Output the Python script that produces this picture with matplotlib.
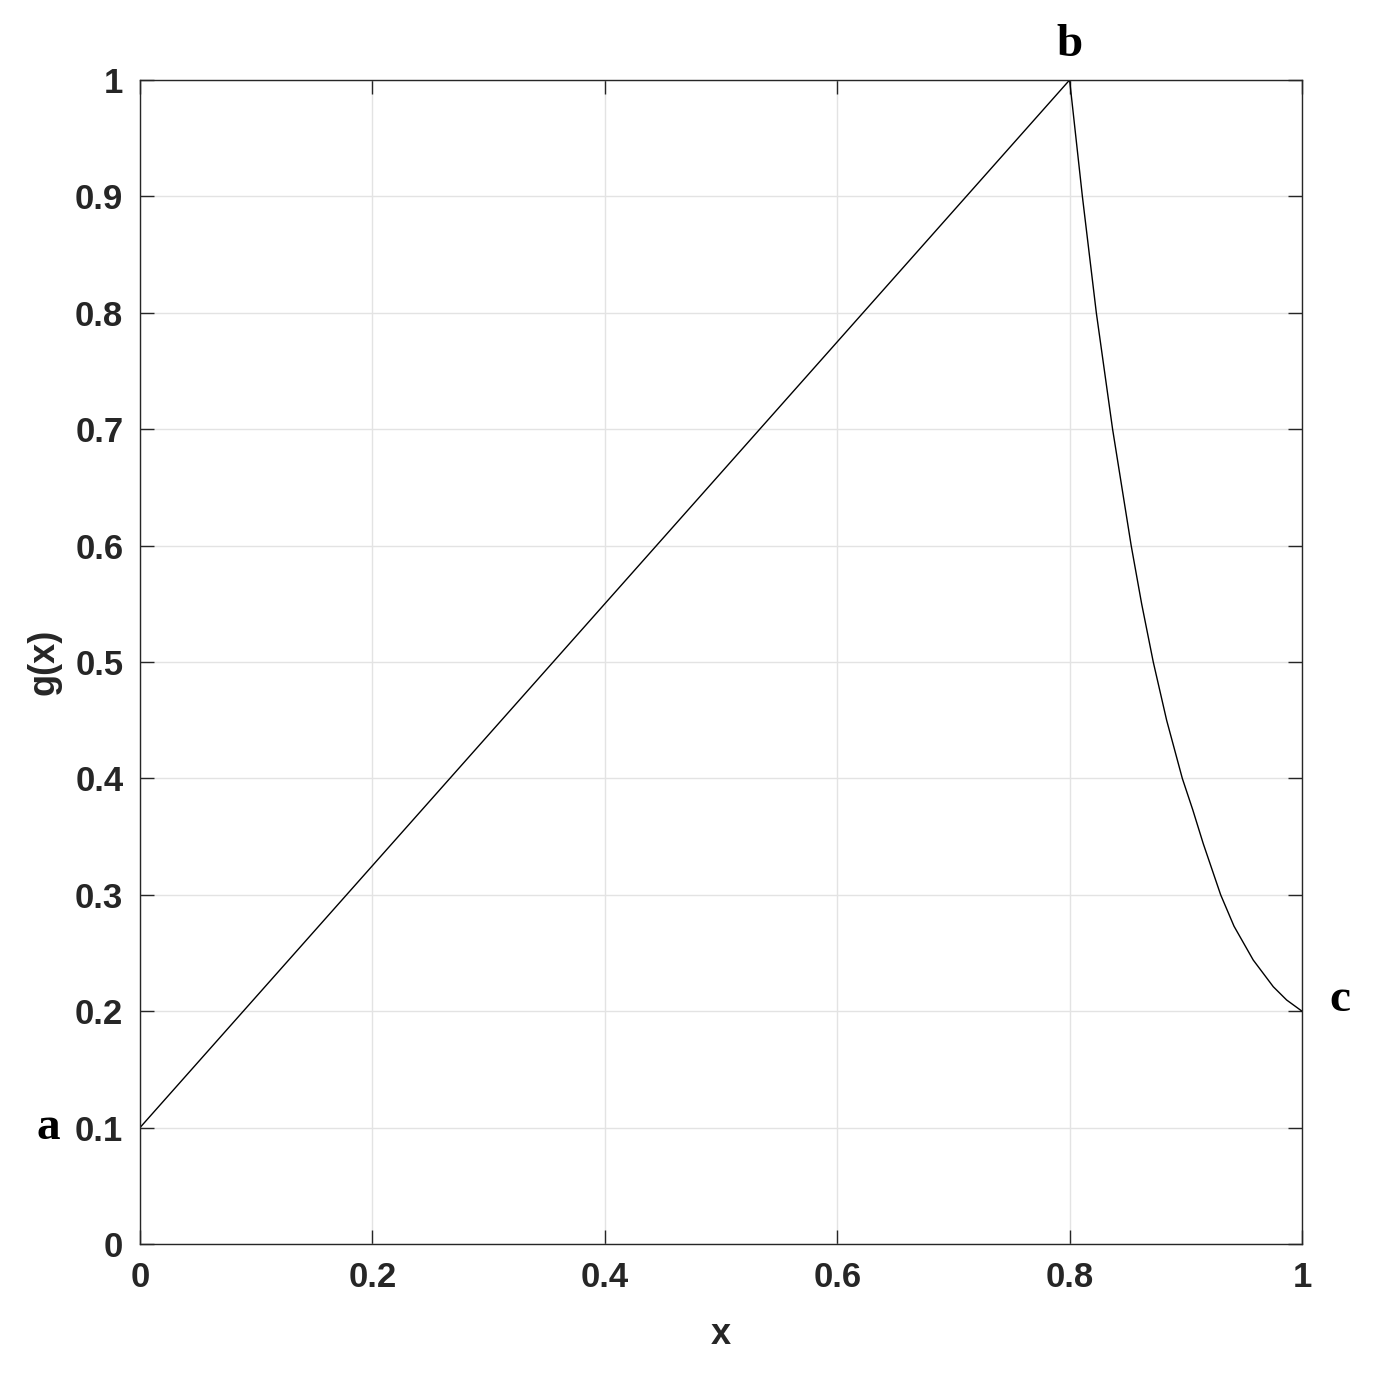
import matplotlib
matplotlib.use("Agg")
import matplotlib.pyplot as plt
import numpy as np

# Data
x_line = [0.0, 0.8]
y_line = [0.1, 1.0]
x_curve = [0.800, 0.811, 0.823, 0.837, 0.853, 0.862, 0.872, 0.8835, 0.897,
           0.906, 0.915, 0.930, 0.9415, 0.958, 0.9753, 0.9868, 1.0]
y_curve = [1.0, 0.9, 0.8, 0.7, 0.6, 0.55, 0.5, 0.45, 0.4,
           0.373, 0.344, 0.3, 0.273, 0.244, 0.221, 0.2096, 0.2]
xticks = [0, 0.2, 0.4, 0.6, 0.8, 1]
xticklabels = ["0", "0.2", "0.4", "0.6", "0.8", "1"]
yticks = [0, 0.1, 0.2, 0.3, 0.4, 0.5, 0.6, 0.7, 0.8, 0.9, 1]
yticklabels = ["0", "0.1", "0.2", "0.3", "0.4", "0.5", "0.6", "0.7", "0.8", "0.9", "1"]
point_labels = ["a", "b", "c"]
point_pos = [(-0.079, 0.1), (0.8, 1.03), (1.033, 0.21)]

fig = plt.figure(figsize=(13.75, 13.75), dpi=100)
ax = fig.add_axes([140/1375, 1 - 1244/1375, 1162/1375, 1164/1375])

ax.plot(x_line, y_line, color="black", lw=1.0)
ax.plot(x_curve, y_curve, color="black", lw=1.0)

ax.set_xlim(0, 1)
ax.set_ylim(0, 1)
ax.set_xticks(xticks)
ax.set_xticklabels(xticklabels)
ax.set_yticks(yticks)
ax.set_yticklabels(yticklabels)

axcol = "#262626"
for s in ax.spines.values():
    s.set_color(axcol)
    s.set_linewidth(1.0)
ax.tick_params(direction="in", length=10, width=1.0, color=axcol,
               top=True, right=True, labelsize=25, labelcolor=axcol, pad=12)
for lab in ax.get_xticklabels() + ax.get_yticklabels():
    lab.set_fontweight("bold")
    lab.set_family("Liberation Sans")

ax.grid(True, color="#e3e3e3", lw=1.0)
ax.set_axisbelow(True)

ax.set_xlabel("x", fontsize=26, fontweight="bold", color=axcol,
              family="Liberation Sans", labelpad=17)
ax.set_ylabel("g(x)", fontsize=26, fontweight="bold", color=axcol,
              family="Liberation Sans", labelpad=10)

for lab, (px, py) in zip(point_labels, point_pos):
    ax.text(px, py, lab, fontsize=34, fontweight="bold", family="Liberation Serif",
            ha="center", va="center", color="black", clip_on=False)

fig.savefig("out.png", dpi=100)
